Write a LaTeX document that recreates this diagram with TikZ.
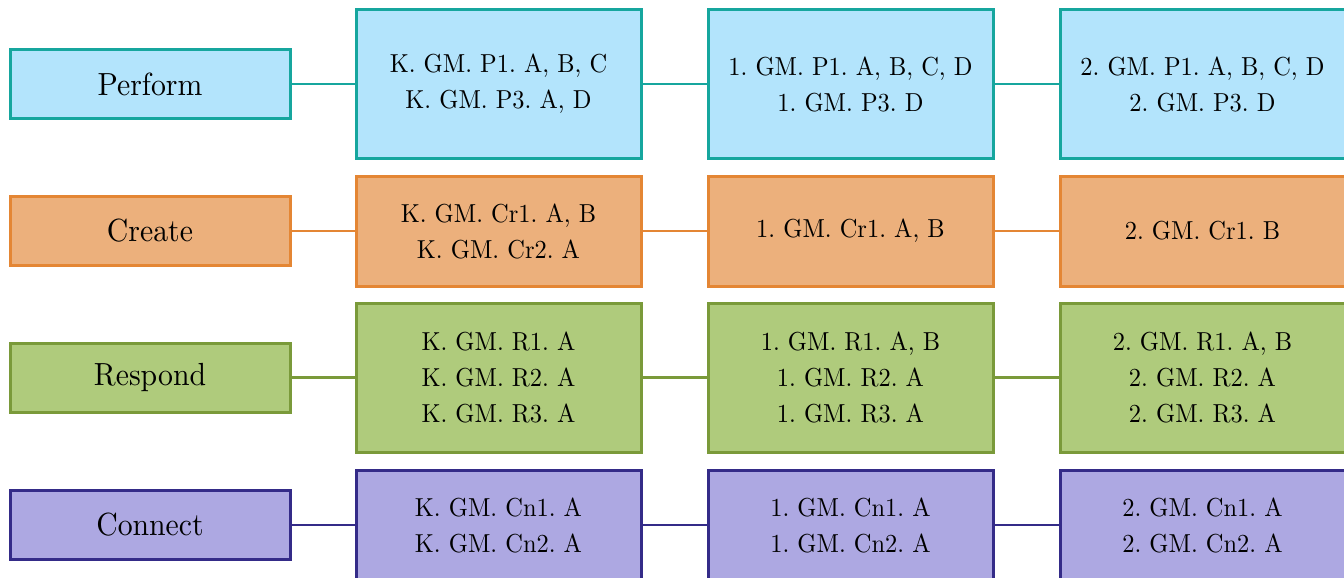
\documentclass[tikz,border=0pt]{standalone}
\usepackage{fontspec}
\setmainfont{Latin Modern Roman}
\newfontfamily\cellfont[Extension=.otf, FakeStretch=0.94]{lmroman10-regular}
\newfontfamily\labfont[Extension=.otf, FakeStretch=0.93]{lmroman10-regular}
\frenchspacing
\definecolor{bfill}{RGB}{179,228,252}
\definecolor{bline}{RGB}{22,166,158}
\definecolor{ofill}{RGB}{236,176,124}
\definecolor{oline}{RGB}{228,134,52}
\definecolor{gfill}{RGB}{175,203,124}
\definecolor{gline}{RGB}{122,154,58}
\definecolor{pfill}{RGB}{173,168,226}
\definecolor{pline}{RGB}{52,43,136}
\begin{document}
\begin{tikzpicture}[x=1pt,y=-1pt,
  lab/.style={draw, line width=3pt, minimum width=280pt, minimum height=69pt, inner sep=0pt, font=\labfont\fontsize{32}{36}\selectfont},
  cell/.style={draw, line width=3pt, minimum width=285pt, inner sep=0pt, align=center, font=\cellfont\fontsize{26}{36}\selectfont\frenchspacing},
  blue/.style={fill=bfill, draw=bline},
  orange/.style={fill=ofill, draw=oline},
  green/.style={fill=gfill, draw=gline},
  purple/.style={fill=pfill, draw=pline},
  conn/.style={line width=2.5pt}]
\useasboundingbox (0,0) rectangle (1344,578);
% Row 1
\node[lab, blue] (l1) at (150,84) {Perform};
\node[cell, blue, minimum height=148pt] (a1) at (498.5,84) {K. GM. P1. A, B, C\\K. GM. P3. A, D};
\node[cell, blue, minimum height=148pt] (b1) at (850.5,84) {1. GM. P1. A, B, C, D\\1. GM. P3. D};
\node[cell, blue, minimum height=148pt] (c1) at (1202.5,84) {2. GM. P1. A, B, C, D\\2. GM. P3. D};
\draw[conn, bline] (l1) -- (a1);
\draw[conn, bline] (a1) -- (b1);
\draw[conn, bline] (b1) -- (c1);
% Row 2
\node[lab, orange] (l2) at (150,231) {Create};
\node[cell, orange, minimum height=110pt] (a2) at (498.5,231) {K. GM. Cr1. A, B\\K. GM. Cr2. A};
\node[cell, orange, minimum height=110pt] (b2) at (850.5,231) {1. GM. Cr1. A, B};
\node[cell, orange, minimum height=110pt] (c2) at (1202.5,231) {2. GM. Cr1. B};
\draw[conn, oline] (l2) -- (a2);
\draw[conn, oline] (a2) -- (b2);
\draw[conn, oline] (b2) -- (c2);
% Row 3
\node[lab, green] (l3) at (150,377.5) {Respond};
\node[cell, green, minimum height=149pt] (a3) at (498.5,377.5) {K. GM. R1. A\\K. GM. R2. A\\K. GM. R3. A};
\node[cell, green, minimum height=149pt] (b3) at (850.5,377.5) {1. GM. R1. A, B\\1. GM. R2. A\\1. GM. R3. A};
\node[cell, green, minimum height=149pt] (c3) at (1202.5,377.5) {2. GM. R1. A, B\\2. GM. R2. A\\2. GM. R3. A};
\draw[conn, gline] (l3) -- (a3);
\draw[conn, gline] (a3) -- (b3);
\draw[conn, gline] (b3) -- (c3);
% Row 4
\node[lab, purple] (l4) at (150,525) {Connect};
\node[cell, purple, minimum height=110pt] (a4) at (498.5,525) {K. GM. Cn1. A\\K. GM. Cn2. A};
\node[cell, purple, minimum height=110pt] (b4) at (850.5,525) {1. GM. Cn1. A\\1. GM. Cn2. A};
\node[cell, purple, minimum height=110pt] (c4) at (1202.5,525) {2. GM. Cn1. A\\2. GM. Cn2. A};
\draw[conn, pline] (l4) -- (a4);
\draw[conn, pline] (a4) -- (b4);
\draw[conn, pline] (b4) -- (c4);
\end{tikzpicture}
\end{document}
